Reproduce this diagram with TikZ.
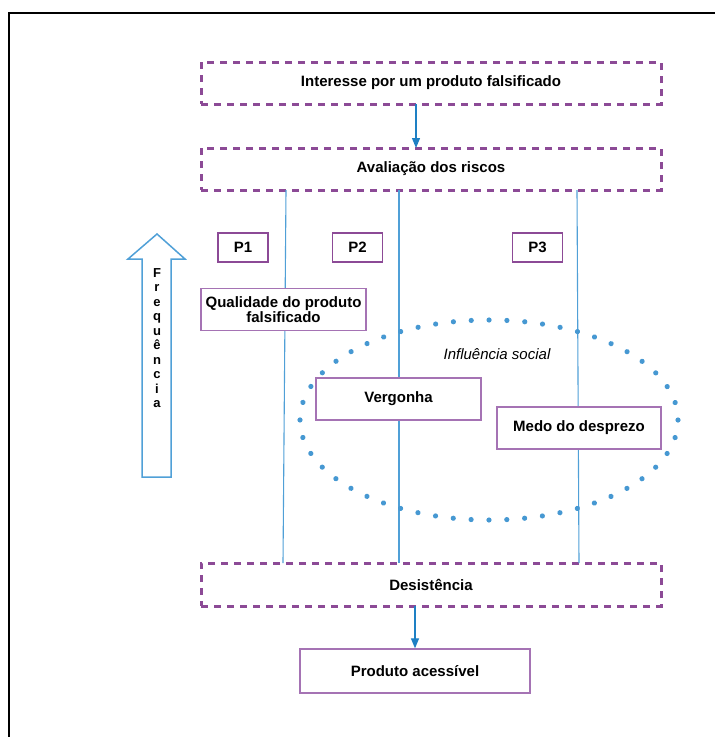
\documentclass[tikz,border=0pt]{standalone}
\usepackage{fontspec}
\setmainfont{Liberation Sans}
\usepackage{tikz}
\usetikzlibrary{arrows.meta, calc, positioning, decorations.markings}

\definecolor{boxpurple}{RGB}{140,74,150}
\definecolor{lightpurple}{RGB}{165,115,180}
\definecolor{linkblue}{RGB}{80,160,215}
\definecolor{arrowblue}{RGB}{30,128,196}
\definecolor{dotblue}{RGB}{70,152,210}

\tikzset{
	stagebox/.style={draw=boxpurple, line width=3pt, dash pattern=on 7pt off 6pt, minimum width=460pt, minimum height=42pt, inner sep=0pt, outer sep=0pt, font=\bfseries\fontsize{15}{18}\selectfont},
	factorbox/.style={draw=lightpurple, line width=1.3pt, fill=white, minimum height=42pt, inner sep=0pt, font=\bfseries\fontsize{15}{18}\selectfont},
	pathbox/.style={draw=boxpurple, line width=1.6pt, fill=white, minimum width=50pt, minimum height=29pt, inner sep=0pt, font=\bfseries\fontsize{15}{18}\selectfont},
	link/.style={draw=linkblue, line width=1.1pt},
	flow/.style={draw=arrowblue, line width=1.2pt, -{Triangle[length=10pt,width=8pt]}},
	dotted ring/.style={decoration={markings, mark=between positions 0 and 0.99 step 17.88pt with {\fill[dotblue] (0,0) circle [radius=2.6pt];}}, decorate},
}

\begin{document}
\begin{tikzpicture}[x=1pt, y=-1pt]
								\useasboundingbox (0,0) rectangle (715,737);

								% moldura
								\draw[line width=2.5pt] (9,745) -- (9,13) -- (725,13);

								\node[stagebox] (interesse) at (431,83) {Interesse por um produto falsificado};
								\node[stagebox] (avaliacao) at (431,169) {Avaliação dos riscos};
								\node[stagebox, minimum height=43pt] (desistencia) at (431,584.5) {Desistência};

								\draw[flow] ([xshift=-15pt]interesse.south) -- ([xshift=-15pt]avaliacao.north);

								\draw[link] ([xshift=85pt]avaliacao.south west) -- ([xshift=82pt]desistencia.north west);
								\draw[link] ([xshift=198pt]avaliacao.south west) -- ([xshift=198pt]desistencia.north west);
								\draw[link] ([xshift=376pt]avaliacao.south west) -- ([xshift=378pt]desistencia.north west);

								\node[pathbox] (p1) at (243,247.5) {P1};
								\node[pathbox] (p2) at (357.5,247.5) {P2};
								\node[pathbox] (p3) at (537.5,247.5) {P3};

								% influencia social
								\path[dotted ring] (489,420) ellipse [x radius=189, y radius=100];
								\node[font=\itshape\fontsize{15}{18}\selectfont] (social) at (497,354) {Influência social};

								\node[factorbox, minimum width=165pt, align=center, font=\bfseries\fontsize{15}{11.5}\selectfont] (qualidade) at (283.5,309.5) {Qualidade do produto\\falsificado};
								\node[factorbox, minimum width=165pt] (vergonha) at (398.5,399) {Vergonha};
								\node[factorbox, minimum width=164pt] (medo) at (579,428) {Medo do desprezo};

								% frequencia
								\draw[draw=linkblue, line width=1.5pt] (142,477) -- (142,259) -- (128,259) -- (157,234) -- (185,259) -- (171,259) -- (171,477) -- cycle;
								\node[align=center, inner sep=0pt, font=\bfseries\fontsize{13}{14.5}\selectfont] (frequencia) at (157,338) {F\\r\\e\\q\\u\\ê\\n\\c\\i\\a};

								\node[factorbox, minimum width=230pt, minimum height=44pt] (produto) at (415,671) {Produto acessível};
								\draw[flow] (desistencia.south -| produto.north) -- (produto.north);
							\end{tikzpicture}
\end{document}
